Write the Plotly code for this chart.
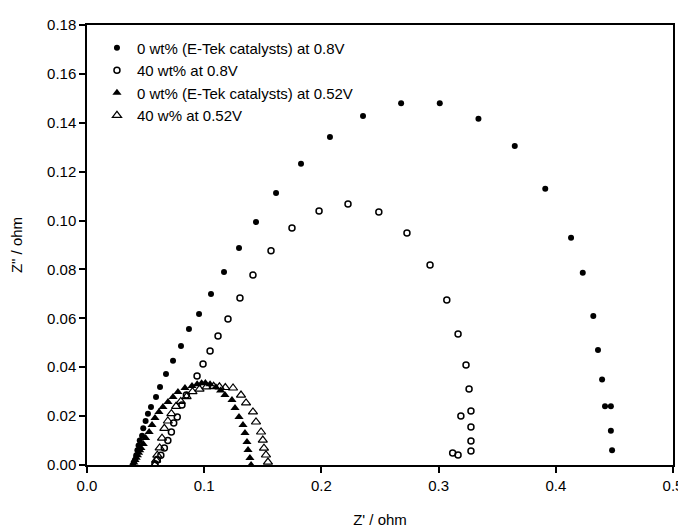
import plotly.graph_objects as go

# 0 wt% (E-Tek catalysts) at 0.8V  -- filled circles
zr_0wt_08 = [0.040, 0.041, 0.042, 0.043, 0.044, 0.045, 0.047, 0.048, 0.050, 0.052,
             0.0546, 0.0589, 0.0623, 0.0674, 0.0734, 0.0802, 0.0870, 0.0956, 0.1058,
             0.1169, 0.1297, 0.1442, 0.1613, 0.1826, 0.2073, 0.2355, 0.268, 0.301,
             0.334, 0.365, 0.391, 0.413, 0.423, 0.432, 0.436, 0.4395, 0.442, 0.447,
             0.447, 0.448]
zi_0wt_08 = [0.001, 0.002, 0.004, 0.006, 0.008, 0.010, 0.012, 0.015, 0.018, 0.021,
             0.0237, 0.0278, 0.0319, 0.0372, 0.0426, 0.0487, 0.0556, 0.0618, 0.0700,
             0.0790, 0.0888, 0.0994, 0.1113, 0.1232, 0.1342, 0.1428, 0.148, 0.148,
             0.1416, 0.1305, 0.113, 0.093, 0.0786, 0.061, 0.047, 0.035, 0.024, 0.024,
             0.014, 0.006]

# 40 wt% at 0.8V -- open circles
zr_40wt_08 = [0.058, 0.060, 0.063, 0.066, 0.069, 0.072, 0.074, 0.077, 0.081, 0.0848,
              0.0939, 0.099, 0.105, 0.1118, 0.1203, 0.1305, 0.1416, 0.157, 0.1749,
              0.198, 0.2227, 0.249, 0.273, 0.2927, 0.307, 0.3166, 0.3234, 0.326,
              0.3276, 0.319, 0.3276, 0.3276, 0.3276, 0.312, 0.3166]
zi_40wt_08 = [0.0005, 0.002, 0.004, 0.007, 0.010, 0.0135, 0.0172, 0.0196, 0.0245, 0.0286,
              0.0364, 0.0413, 0.0466, 0.0528, 0.0597, 0.0683, 0.0777, 0.0876, 0.097,
              0.1039, 0.1068, 0.1035, 0.0949, 0.0818, 0.0675, 0.0536, 0.0409, 0.0311,
              0.0221, 0.020, 0.0155, 0.0098, 0.0057, 0.0049, 0.0041]

# 0 wt% (E-Tek catalysts) at 0.52V -- filled triangles
zr_0wt_052 = [0.039, 0.040, 0.041, 0.042, 0.043, 0.044, 0.045, 0.046, 0.048, 0.050,
              0.053, 0.0555, 0.058, 0.0614, 0.0648, 0.0691, 0.0734, 0.0776, 0.0836,
              0.0896, 0.0940, 0.0978, 0.101, 0.105, 0.110, 0.1140, 0.1177, 0.1237,
              0.1263, 0.1297, 0.1331, 0.1348, 0.1365, 0.1374, 0.139, 0.140]
zi_0wt_052 = [0.000, 0.001, 0.002, 0.003, 0.004, 0.005, 0.006, 0.007, 0.0086, 0.011,
              0.0135, 0.0164, 0.0192, 0.0217, 0.0237, 0.0258, 0.0278, 0.0299, 0.0315,
              0.0323, 0.0330, 0.0334, 0.0335, 0.0330, 0.0318, 0.0305, 0.0286, 0.0266,
              0.0233, 0.0196, 0.0164, 0.0131, 0.0094, 0.0061, 0.0029, 0.000]

# 40 w% at 0.52V -- open triangles
zr_40wt_052 = [0.058, 0.059, 0.060, 0.062, 0.064, 0.066, 0.069, 0.072, 0.076, 0.080,
               0.085, 0.090, 0.096, 0.102, 0.108, 0.113, 0.118, 0.1246, 0.1314, 0.1357,
               0.1416, 0.1442, 0.1485, 0.150, 0.151, 0.1527, 0.1544]
zi_40wt_052 = [0.000, 0.002, 0.004, 0.007, 0.011, 0.015, 0.018, 0.021, 0.024, 0.026,
               0.028, 0.030, 0.031, 0.032, 0.0322, 0.0320, 0.0317, 0.0315, 0.0286, 0.0254,
               0.0217, 0.0176, 0.0135, 0.0102, 0.0069, 0.0041, 0.0012]

names = ["0 wt% (E-Tek catalysts) at 0.8V", "40 wt% at 0.8V",
         "0 wt% (E-Tek catalysts) at 0.52V", "40 w% at 0.52V"]

x_ticks = [0.0, 0.1, 0.2, 0.3, 0.4, 0.5]
y_ticks = [0.00, 0.02, 0.04, 0.06, 0.08, 0.10, 0.12, 0.14, 0.16, 0.18]

FONT = "Liberation Sans, Arial, sans-serif"

fig = go.Figure()
fig.add_trace(go.Scatter(x=zr_0wt_08, y=zi_0wt_08, mode="markers", name=names[0],
                         marker=dict(symbol="circle", size=6, color="black")))
fig.add_trace(go.Scatter(x=zr_40wt_08, y=zi_40wt_08, mode="markers", name=names[1],
                         marker=dict(symbol="circle-open", size=6, color="black",
                                     line=dict(width=1.5, color="black"))))
fig.add_trace(go.Scatter(x=zr_0wt_052, y=zi_0wt_052, mode="markers", name=names[2],
                         marker=dict(symbol="triangle-up", size=8, color="black")))
fig.add_trace(go.Scatter(x=zr_40wt_052, y=zi_40wt_052, mode="markers", name=names[3],
                         marker=dict(symbol="triangle-up-open", size=8, color="black",
                                     line=dict(width=1.2, color="black"))))

# The page body has an 8px default margin; the figure is sized so the
# plot area lands at the same window position as in the reference.
fig.update_layout(
    width=678, height=523,
    margin=dict(l=79, r=13, t=17, b=66),
    paper_bgcolor="white", plot_bgcolor="white",
    font=dict(family=FONT, size=15, color="black"),
    showlegend=True,
    legend=dict(x=0.017, y=0.985, xanchor="left", yanchor="top",
                bgcolor="rgba(0,0,0,0)", font=dict(size=15, family=FONT),
                itemsizing="trace", tracegroupgap=0),
    xaxis=dict(range=[0, 0.5], tickvals=x_ticks,
               ticktext=[f"{v:.1f}" for v in x_ticks], automargin=False,
               showgrid=False, zeroline=False, showline=True, linecolor="black",
               linewidth=1.5, mirror=True, ticks="outside", ticklen=6,
               tickcolor="black", tickwidth=1.5, tickfont=dict(size=15),
               title=dict(text="Z' / ohm", font=dict(size=15), standoff=22)),
    yaxis=dict(range=[0, 0.18], tickvals=y_ticks,
               ticktext=[f"{v:.2f}" for v in y_ticks], automargin=False,
               showgrid=False, zeroline=False, showline=True, linecolor="black",
               linewidth=1.5, mirror=True, ticks="outside", ticklen=6,
               tickcolor="black", tickwidth=1.5, tickfont=dict(size=15),
               title=dict(text="Z\" / ohm", font=dict(size=15), standoff=24)),
)

fig.write_html("out.html")
